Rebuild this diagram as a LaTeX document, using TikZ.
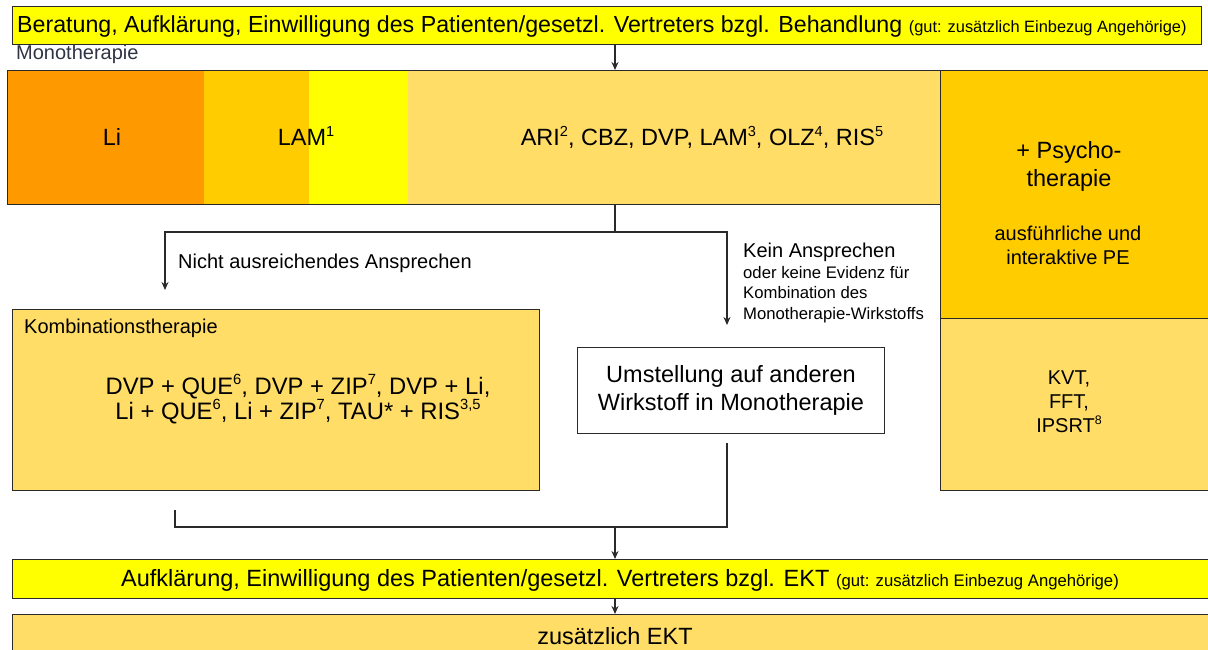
\documentclass[tikz,border=0pt]{standalone}
\usepackage{fontspec}
\setmainfont{Liberation Sans}
\usepackage{tikz}
\usetikzlibrary{shapes.geometric, arrows.meta}
\definecolor{barYellow}{HTML}{FFFF00}
\definecolor{liOrange}{HTML}{FF9900}
\definecolor{lamAmber}{HTML}{FFCC00}
\definecolor{paleYellow}{HTML}{FFDD66}
\definecolor{lineGray}{HTML}{2A2A2A}
\definecolor{slateText}{HTML}{2E3444}
\newcommand{\bigfont}{\fontsize{23.5}{28}\selectfont}
\newcommand{\midfont}{\fontsize{20}{24}\selectfont}
\newcommand{\smallfont}{\fontsize{16.7}{20.5}\selectfont}
\newcommand{\fnote}[1]{\raisebox{0.42em}{\scalebox{0.62}{#1}}}
\tikzstyle{bar} = [rectangle, draw=lineGray, line width=1pt, fill=barYellow, minimum height=38pt, inner sep=0pt]
\tikzstyle{segment} = [rectangle, minimum height=134pt, inner sep=0pt]
\tikzstyle{box} = [rectangle, draw=lineGray, line width=1pt, inner sep=0pt]
\tikzstyle{txtbig} = [inner sep=0pt, font=\bigfont]
\tikzstyle{txtmid} = [inner sep=0pt, font=\midfont]
\tikzstyle{txtsmall} = [inner sep=0pt, font=\smallfont]
\tikzstyle{wire} = [draw=lineGray, line width=1.2pt]
\tikzstyle{arrow} = [wire,-{Stealth[length=8pt,width=7pt]}]

\begin{document}
\begin{tikzpicture}[x=1pt, y=-1pt]
	\useasboundingbox (0,0) rectangle (1208,650);
	\node[bar, anchor=north west, minimum width=1189pt](beratung) at (12,6){};
	\node[txtbig, anchor=base west, font=\fontsize{23.2}{28}\selectfont](beratung_text) at (17,33){Beratung, Aufklärung, Einwilligung des Patienten/gesetzl. Vertreters bzgl. Behandlung {\fontsize{16.4}{20}\selectfont (gut: zusätzlich Einbezug Angehörige)}};
	\node[txtmid, anchor=base west, text=slateText](mono_label) at (16,60){Monotherapie};
	
	\node[segment, fill=liOrange, minimum width=197pt, anchor=north west](li) at (7,70){};
	\node[segment, fill=lamAmber, minimum width=105pt, anchor=north west](lam_left) at (204,70){};
	\node[segment, fill=barYellow, minimum width=99pt, anchor=north west](lam_right) at (309,70){};
	\node[segment, fill=paleYellow, minimum width=532pt, anchor=north west](others) at (408,70){};
	\node[txtbig, anchor=base](li_text) at (112,146){Li};
	\node[txtbig, anchor=base](lam) at (306,146){LAM\fnote{1}};
	\node[txtbig, anchor=base](others_text) at (702,146){ARI\fnote{2}, CBZ, DVP, LAM\fnote{3}, OLZ\fnote{4}, RIS\fnote{5}};
	\node[box, minimum width=933pt, minimum height=134pt, anchor=north west](mono) at (7,70){};
	
	\node[box, fill=lamAmber, minimum width=272pt, minimum height=248pt, anchor=north west](psycho) at (940,70){};
	\node[txtbig, align=center](psycho_title) at (1069,166){+ Psycho-\\therapie};
	\node[txtmid, align=center](psycho_pe) at (1068,245){ausführliche und\\interaktive PE};
	\node[box, fill=paleYellow, minimum width=272pt, minimum height=172pt, anchor=north west](methods) at (940,318){};
	\node[txtmid, align=center](methods_text) at (1069,402){KVT,\\FFT,\\IPSRT\fnote{8}};
	
	\node[txtmid, anchor=west](partial) at (178,263){Nicht ausreichendes Ansprechen};
	\node[txtmid, anchor=west](kein) at (743,252){Kein Ansprechen};
	\node[txtsmall, anchor=north west, align=left](kein_detail) at (743,266){oder keine Evidenz für\\Kombination des\\Monotherapie-Wirkstoffs};
	
	\node[box, fill=paleYellow, minimum width=527pt, minimum height=181pt, anchor=north west](kombi) at (12,309){};
	\node[txtmid, anchor=west](kombi_title) at (24,328){Kombinationstherapie};
	\node[txtbig, align=center, font=\fontsize{23.8}{25.5}\selectfont](kombi_text) at (298,399){DVP + QUE\fnote{6}, DVP + ZIP\fnote{7}, DVP + Li,\\Li + QUE\fnote{6}, Li + ZIP\fnote{7}, TAU* + RIS\fnote{3,5}};
	
	\node[box, fill=white, minimum width=307pt, minimum height=86pt, anchor=north west, font=\bigfont, align=center](umstellung) at (577,347){Umstellung auf anderen\\Wirkstoff in Monotherapie};
	
	\node[bar, minimum width=1200pt, anchor=north west, minimum height=39pt](ekt_consent) at (12,559){};
	\node[txtbig, anchor=base](ekt_consent_text) at (620,586){Aufklärung, Einwilligung des Patienten/gesetzl. Vertreters bzgl. EKT {\smallfont (gut: zusätzlich Einbezug Angehörige)}};
	\node[box, fill=paleYellow, minimum width=1200pt, minimum height=44pt, anchor=north west](ekt) at (12,614){};
	\node[txtbig, anchor=base](ekt_text) at (615,644){zusätzlich EKT};
	
	\coordinate (axis) at (615,0);
	\coordinate (branch) at (615,232);
	\coordinate (kombi_in) at (165,290);
	\coordinate (switch_in) at (727,325);
	\coordinate (kombi_out) at (175,510);
	\coordinate (switch_out) at (727,443);
	\coordinate (merge) at (615,527);
	
	\draw[arrow] (beratung.south -| axis) -- (mono.north -| axis);
	\draw[wire] (mono.south -| branch) -- (branch);
	\draw[arrow] (branch) -| (kombi_in);
	\draw[arrow] (branch) -| (switch_in);
	\draw[wire] (kombi_out) |- (merge) -| (switch_out);
	\draw[arrow] (merge) -- (ekt_consent.north -| merge);
	\draw[arrow] (ekt_consent.south -| merge) -- (ekt.north -| merge);
\end{tikzpicture}
\end{document}
